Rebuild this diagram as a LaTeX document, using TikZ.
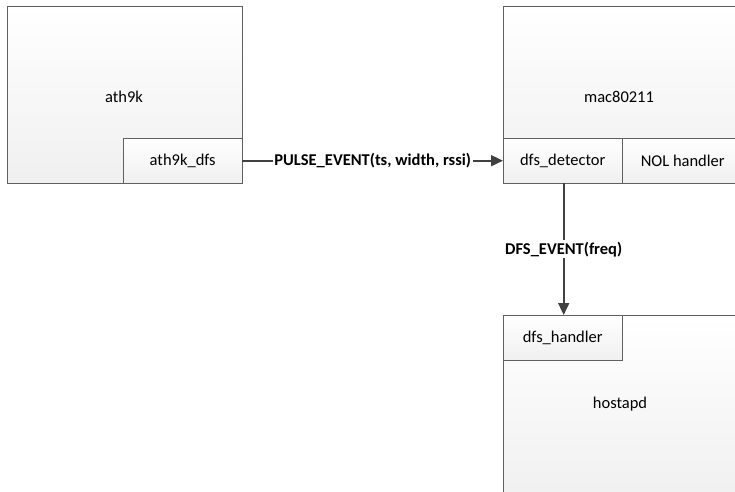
\documentclass[tikz,border=0pt]{standalone}
\usepackage{fontspec}
\setmainfont{Carlito}
\usetikzlibrary{arrows.meta}

\tikzset{
  block/.style={draw=gray!75!black, top color=white, bottom color=gray!12,
    anchor=north west, inner sep=0pt, font=\fontsize{16.5}{20}\selectfont},
  blocktext/.style={font=\fontsize{16.5}{20}\selectfont},
  msg/.style={draw=black!75, line width=1.8pt, -{Triangle[length=12pt,width=11pt]}},
  msglabel/.style={fill=white, inner sep=1.5pt, font=\fontsize{16.5}{20}\selectfont\bfseries}
}

\begin{document}
\begin{tikzpicture}[x=1pt, y=-1pt]
    \useasboundingbox (0,0) rectangle (735,491);

    % Driver
    \node[block, minimum width=235pt, minimum height=177pt] (ath9k) at (7,6) {};
    \node[blocktext] (ath9kname) at (124,97) {ath9k};
    \node[block, minimum width=119pt, minimum height=45pt] (ath9kdfs) at (123,138) {ath9k\_dfs};

    % Stack
    \node[block, minimum width=240pt, minimum height=177pt] (mac) at (503,6) {};
    \node[blocktext] (macname) at (619,97) {mac80211};
    \node[block, minimum width=119pt, minimum height=45pt] (detector) at (503,138) {dfs\_detector};
    \node[block, minimum width=121pt, minimum height=45pt] (nol) at (622,138) {NOL handler};

    % User space
    \node[block, minimum width=240pt, minimum height=190pt] (hostapd) at (503,315) {};
    \node[blocktext] (hostapdname) at (620,404) {hostapd};
    \node[block, minimum width=119pt, minimum height=45pt] (handler) at (503,315) {dfs\_handler};

    % Events
    \draw[msg] (ath9kdfs.east) -- node[msglabel] {PULSE\_EVENT(ts, width, rssi)} (detector.west);
    \draw[msg] (detector.south) ++(1,0) coordinate (dtop) -- node[msglabel] {DFS\_EVENT(freq)} (dtop |- handler.north);
\end{tikzpicture}
\end{document}
